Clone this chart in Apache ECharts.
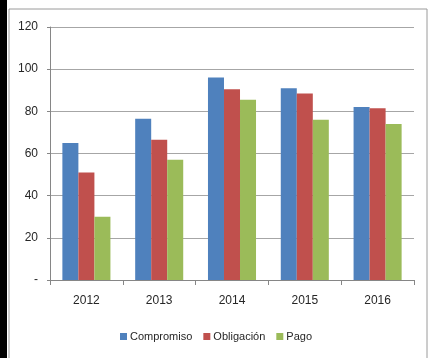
<!DOCTYPE html>
<html>
<head>
<meta charset="utf-8">
<script src="https://cdn.jsdelivr.net/npm/echarts@6/dist/echarts.min.js"></script>
<style>
  html, body { margin: 0; padding: 0; background: #fff; }
  #chart { width: 432px; height: 358px; }
</style>
</head>
<body>
<div id="chart"></div>
<script>
// Budget execution by year
var years = ['2012', '2013', '2014', '2015', '2016'];
var compromiso = [65, 76.5, 96, 91, 82];
var obligacion = [51, 66.5, 90.5, 88.5, 81.5];
var pago = [30, 57, 85.5, 76, 74];
var seriesNames = ['Compromiso', 'Obligación', 'Pago'];
var colors = ['#4F81BD', '#C0504D', '#9BBB59'];

var font = '"Liberation Sans", sans-serif';
var chart = echarts.init(document.getElementById('chart'));

function bar(name, data, color) {
  return {
    name: name,
    type: 'bar',
    data: data,
    barGap: '0%',
    barCategoryGap: '34%',
    itemStyle: { color: color }
  };
}

chart.setOption({
  animation: false,
  color: colors,
  textStyle: { fontFamily: font },
  graphic: [
    { type: 'rect', shape: { x: 0, y: 0, width: 7, height: 358 }, style: { fill: '#000' }, z: 0 },
    { type: 'rect', shape: { x: 9, y: 9, width: 418, height: 360 },
      style: { fill: 'none', stroke: '#9a9a9a', lineWidth: 1 }, z: 0 }
  ],
  grid: { left: 50, right: 18, top: 27, bottom: 78 },
  legend: {
    top: 326,
    left: 'center',
    icon: 'rect',
    itemWidth: 7,
    itemHeight: 7,
    itemGap: 11,
    textStyle: { fontFamily: font, fontSize: 11, color: '#262626', padding: [0, 0, 0, -2] },
    data: seriesNames
  },
  xAxis: {
    type: 'category',
    data: years,
    axisLine: { lineStyle: { color: '#868686' } },
    axisTick: { show: true, length: 5, lineStyle: { color: '#868686' } },
    axisLabel: { color: '#262626', fontSize: 12, margin: 15, fontFamily: font }
  },
  yAxis: {
    type: 'value',
    min: 0,
    max: 120,
    interval: 20,
    axisLine: { show: true, lineStyle: { color: '#868686' } },
    axisTick: { show: true, length: 3, lineStyle: { color: '#868686' } },
    splitLine: { lineStyle: { color: '#a6a6a6' } },
    axisLabel: {
      color: '#262626', fontSize: 12, margin: 12, fontFamily: font,
      formatter: function (v) { return v === 0 ? '-' : String(v); }
    }
  },
  series: [
    bar(seriesNames[0], compromiso, colors[0]),
    bar(seriesNames[1], obligacion, colors[1]),
    bar(seriesNames[2], pago, colors[2])
  ]
});
</script>
</body>
</html>
